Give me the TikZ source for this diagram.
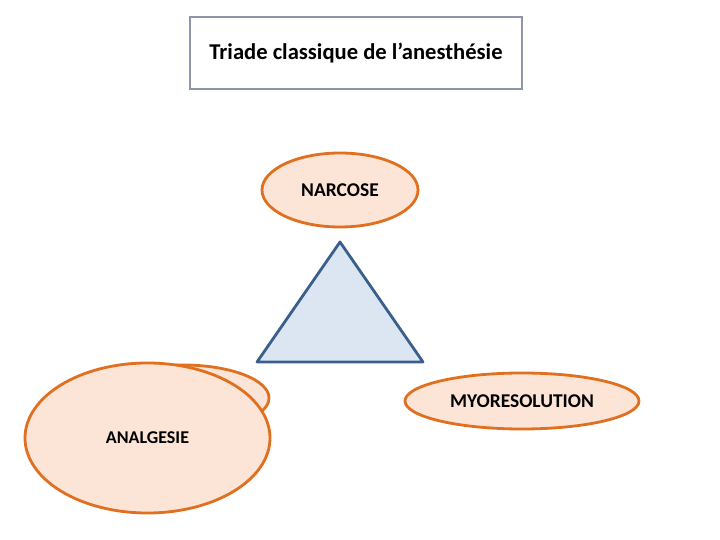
\documentclass[tikz,border=0pt]{standalone}
\usepackage{fontspec}
\setmainfont{Carlito}
\usetikzlibrary{shapes.geometric}
\definecolor{orangeline}{RGB}{224,112,32}
\definecolor{peach}{RGB}{252,229,214}
\definecolor{blueline}{RGB}{58,95,140}
\definecolor{bluefill}{RGB}{220,230,242}
\definecolor{grayline}{RGB}{140,150,168}
\tikzset{
  oval/.style={ellipse, draw=orangeline, fill=peach, line width=2.8pt, inner sep=0pt, font=\bfseries\fontsize{19.5}{22}\selectfont},
}
\begin{document}
\begin{tikzpicture}[x=1pt,y=-1pt]
\useasboundingbox (0,0) rectangle (720,540);
\node[draw=grayline, line width=2.2pt, minimum width=332pt, minimum height=72pt, font=\bfseries\fontsize{22.6}{26}\selectfont] (title) at (356,53) {Triade classique de l’anesthésie};
\node[oval, minimum width=156pt, minimum height=74pt] (narcose) at (340,190) {NARCOSE};
\filldraw[draw=blueline, fill=bluefill, line width=2.8pt, line join=round] (340,242) coordinate (apex) -- (423,362) coordinate (br) -- (257,362) coordinate (bl) -- cycle;
\node[oval, minimum width=234pt, minimum height=56pt] (myo) at (522,401) {MYORESOLUTION};
\node[oval, minimum width=172pt, minimum height=66pt] (analgback) at (183,398) {};
\node[oval, minimum width=245pt, minimum height=150pt, font=\bfseries\fontsize{18}{20}\selectfont] (analg) at (147.5,438) {ANALGESIE};
\end{tikzpicture}
\end{document}
